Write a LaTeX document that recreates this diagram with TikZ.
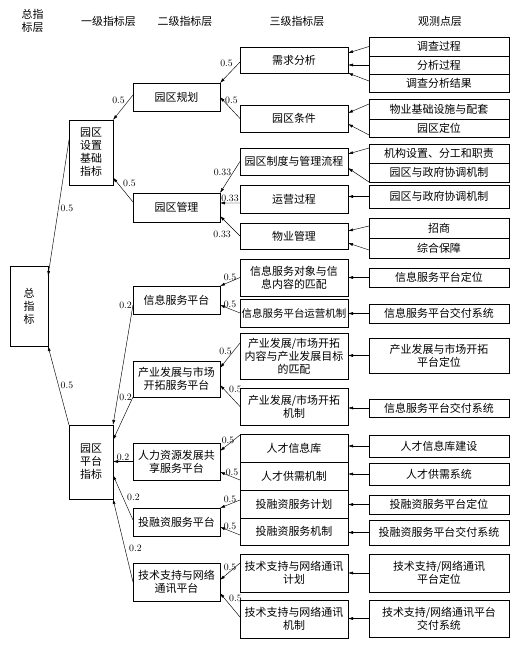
\documentclass[tikz,border=0pt]{standalone}
\usepackage{fontspec}
\usepackage{tikz}
\usetikzlibrary{arrows.meta, positioning}
\newfontfamily\cjk{Noto Sans CJK SC}

\begin{document}
\begin{tikzpicture}[
    x=1bp, y=-1bp,
    node distance=0pt,
    box/.style={draw, line width=0.8pt, outer sep=0pt, inner sep=1bp, align=center,
                font=\cjk\fontsize{11}{13}\selectfont},
    lvA/.style={box, minimum width=44bp},
    lvB/.style={box, minimum width=87bp},
    lvC/.style={box, minimum width=108bp},
    obs/.style={box, minimum width=140bp},
    hd/.style={font=\cjk\fontsize{11}{13}\selectfont, align=center, inner sep=0pt},
    wt/.style={font=\fontsize{9.8}{10}\selectfont, inner sep=1bp},
    arr/.style={-{Latex[length=5bp, width=3bp]}, line width=0.45pt}
  ]
  \useasboundingbox (0,0) rectangle (518,646);

  \node[hd] (h0) at (32.5,21) {总指\\标层};
  \node[hd] (h1) at (108.5,21) {一级指标层};
  \node[hd] (h2) at (185,21) {二级指标层};
  \node[hd] (h3) at (297,21) {三级指标层};
  \node[hd] (h4) at (440,21) {观测点层};

  \node[box, minimum width=38bp, minimum height=80bp] (zz) at (29,306) {总\\指\\标};

  \node[lvA, minimum height=65bp] (sj) at (91,152.5) {园区\\设置\\基础\\指标};
  \node[lvA, minimum height=74bp] (pt) at (91,462)   {园区\\平台\\指标};

  \node[lvB, minimum height=28bp] (gh) at (176.5,97)    {园区规划};
  \node[lvB, minimum height=29bp] (gm) at (176.5,207.5) {园区管理};
  \node[lvB, minimum height=28bp] (xx) at (176.5,300)   {信息服务平台};
  \node[lvB, minimum height=36bp] (cy) at (176.5,379)   {产业发展与市场\\开拓服务平台};
  \node[lvB, minimum height=37bp] (rl) at (176.5,461.5) {人力资源发展共\\享服务平台};
  \node[lvB, minimum height=28bp] (tr) at (176.5,522)   {投融资服务平台};
  \node[lvB, minimum height=38bp] (js) at (176.5,582)   {技术支持与网络\\通讯平台};

  \node[lvC, minimum height=26bp] (xq) at (294,60)    {需求分析};
  \node[lvC, minimum height=27bp] (yt) at (294,118.5) {园区条件};
  \node[lvC, minimum height=27bp] (zd) at (294,161.5) {园区制度与管理流程};
  \node[lvC, minimum height=28bp] (yy) at (294,199)   {运营过程};
  \node[lvC, minimum height=26bp] (wy) at (294,236)   {物业管理};
  \node[lvC, minimum height=37bp] (xd) at (294,277.5) {信息服务对象与信\\息内容的匹配};
  \node[lvC, minimum height=28bp, font=\cjk\fontsize{10.5}{13}\selectfont]
                                  (xy) at (294,313)   {信息服务平台运营机制};
  \node[lvC, minimum height=46bp] (cn) at (294,356)   {产业发展/市场开拓\\内容与产业发展目标\\的匹配};
  \node[lvC, minimum height=37bp] (cj) at (294,406.5) {产业发展/市场开拓\\机制};
  \node[lvC, minimum height=28bp] (rx) at (294,448)   {人才信息库};
  \node[lvC, minimum height=28bp, below=of rx] (rg) {人才供需机制};
  \node[lvC, minimum height=28bp, below=of rg] (tj) {投融资服务计划};
  \node[lvC, minimum height=27bp, below=of tj] (tm) {投融资服务机制};
  \node[lvC, minimum height=38bp] (jj) at (294,573)   {技术支持与网络通讯\\计划};
  \node[lvC, minimum height=38bp] (jz) at (294,619)   {技术支持与网络通讯\\机制};

  \node[obs, minimum height=19bp] (dc) at (439,46.5) {调查过程};
  \node[obs, minimum height=18bp, below=of dc] (fx) {分析过程};
  \node[obs, minimum height=18bp, below=of fx] (jgr) {调查分析结果};
  \node[obs, minimum height=20bp] (wj) at (439,109) {物业基础设施与配套};
  \node[obs, minimum height=18bp, below=of wj] (yd) {园区定位};
  \node[obs, minimum height=19bp] (jg) at (439,153.5) {机构设置、分工和职责};
  \node[obs, minimum height=19bp, below=of jg] (yz) {园区与政府协调机制};
  \node[obs, minimum height=23bp] (yz2) at (439,196.5) {园区与政府协调机制};
  \node[obs, minimum height=20bp] (zs) at (439,228) {招商};
  \node[obs, minimum height=20bp, below=of zs] (zb) {综合保障};
  \node[obs, minimum height=19bp] (xdw) at (439,277.5) {信息服务平台定位};
  \node[obs, minimum height=19bp] (xjf) at (439,313.5) {信息服务平台交付系统};
  \node[obs, minimum height=35bp] (cdw) at (439,355.5) {产业发展与市场开拓\\平台定位};
  \node[obs, minimum height=18bp] (xjf2) at (439,408) {信息服务平台交付系统};
  \node[obs, minimum height=22bp] (rjs) at (439,446) {人才信息库建设};
  \node[obs, minimum height=22bp] (rxt) at (439,474) {人才供需系统};
  \node[obs, minimum height=19bp] (tdw) at (439,504.5) {投融资服务平台定位};
  \node[obs, minimum height=25bp] (tjf) at (439,532.5) {投融资服务平台交付系统};
  \node[obs, minimum height=38bp] (jdw) at (439,573) {技术支持/网络通讯\\平台定位};
  \node[obs, minimum height=37bp] (jjf) at (439,618.5) {技术支持/网络通讯平台\\交付系统};

  \draw[arr] ([yshift=12.5bp]sj.west) -- node[wt, pos=0.5, right=1bp] {0.5} ([yshift=-10bp]zz.north east);
  \draw[arr] (pt.north west) -- node[wt, pos=0.5, right=1bp] {0.5} (zz.south east);

  \draw[arr] ([yshift=2bp]gh.west) -- node[wt, pos=0.2, left=3bp] {0.5} (sj.north east);
  \draw[arr] ([yshift=5.5bp]gm.west) -- node[wt, pos=0.75, right=4bp] {0.5} ([yshift=7.5bp]sj.south east);
  \draw[arr] ([yshift=-5bp]xx.west) -- node[wt, pos=0, left=0bp] {0.2} (pt.north east);
  \draw[arr] (cy.south west) -- node[wt, pos=0, left=0bp] {0.2} ([yshift=22bp]pt.east);
  \draw[arr] (rl.west) -- node[wt, pos=0.5, above] {0.2} (rl.west -| pt.east);
  \draw[arr] ([yshift=2bp]tr.west) -- node[wt, pos=0.5, right=3bp] {0.2} ([yshift=-13bp]pt.east);
  \draw[arr] (js.west) -- node[wt, pos=0.4, right=3bp] {0.2} (pt.south east);

  \draw[arr] ([yshift=-2bp]xq.west) -- node[wt, pos=0.05, left=5bp] {0.5} (gh.north east);
  \draw[arr] (yt.west) -- node[wt, pos=0.85, right=1bp] {0.5} (gh.east);
  \draw[arr] (zd.west) -- node[wt, pos=0.33, left=1bp] {0.33} (gm.north east);
  \draw[arr] ([yshift=-4bp]yy.west) -- node[wt, pos=0.5, above] {0.33} ([yshift=4.5bp]gm.east);
  \draw[arr] (wy.west) -- node[wt, pos=0.1, left=6bp] {0.33} ([yshift=6bp]gm.south east);
  \draw[arr] (xd.west) -- node[wt, pos=0.5, above] {0.5} (xx.north east);
  \draw[arr] (xy.west) -- node[wt, pos=0.5, above] {0.5} ([yshift=-5bp]xx.east);
  \draw[arr] ([yshift=13bp]cn.west) -- node[wt, pos=0.35, left=0bp] {0.5} ([yshift=11bp]cy.east);
  \draw[arr] (cj.west) -- node[wt, pos=0.6, above right=0bp] {0.5} ([yshift=-6bp]cy.east);
  \draw[arr] ([yshift=13bp]rx.west) -- node[wt, pos=0.6, above] {0.5} ([yshift=10.5bp]rl.east);
  \draw[arr] ([yshift=-4bp]rg.west) -- node[wt, pos=0.4, above] {0.5} ([yshift=-10.5bp]rl.east);
  \draw[arr] ([yshift=4bp]tj.west) -- node[wt, pos=0.5, above] {0.5} (tr.north east);
  \draw[arr] ([yshift=-3.5bp]tm.west) -- node[wt, pos=0.5, above] {0.5} ([yshift=-5bp]tr.east);
  \draw[arr] ([yshift=10bp]jj.west) -- node[wt, pos=0.5, above] {0.5} ([yshift=2bp]js.east);
  \draw[arr] ([yshift=2bp]jz.west) -- node[wt, pos=0.6, above right=0bp] {0.5} ([yshift=-11bp]js.east);

  \draw[arr] (dc.west) -- ([yshift=7bp]xq.east);
  \draw[arr] (fx.west) -- (fx.west -| xq.east);
  \draw[arr] ([yshift=2bp]jgr.west) -- (xq.south east);
  \draw[arr] ([yshift=5bp]wj.west) -- ([yshift=5.5bp]yt.east);
  \draw[arr] ([yshift=-7bp]yd.west) -- ([yshift=-5.5bp]yt.east);
  \draw[arr] ([yshift=5.5bp]jg.west) -- ([yshift=7.5bp]zd.east);
  \draw[arr] (yz.south west) -- ([yshift=-6.5bp]zd.east);
  \draw[arr] (yz2.west) -- (yz2.west -| yy.east);
  \draw[arr] ([yshift=2bp]zs.west) -- ([yshift=5bp]wy.east);
  \draw[arr] ([yshift=-2bp]zb.west) -- ([yshift=-7bp]wy.east);
  \draw[arr] (xdw.west) -- (xdw.west -| xd.east);
  \draw[arr] (xjf.west) -- (xjf.west -| xy.east);
  \draw[arr] (cdw.west) -- (cdw.west -| cn.east);
  \draw[arr] (xjf2.west) -- (xjf2.west -| cj.east);
  \draw[arr] (rjs.west) -- (rjs.west -| rx.east);
  \draw[arr] (rxt.west) -- (rxt.west -| rg.east);
  \draw[arr] (tdw.west) -- (tdw.west -| tj.east);
  \draw[arr] (tjf.west) -- (tjf.west -| tm.east);
  \draw[arr] (jdw.west) -- (jdw.west -| jj.east);
  \draw[arr] (jjf.west) -- (jjf.west -| jz.east);
\end{tikzpicture}
\end{document}
